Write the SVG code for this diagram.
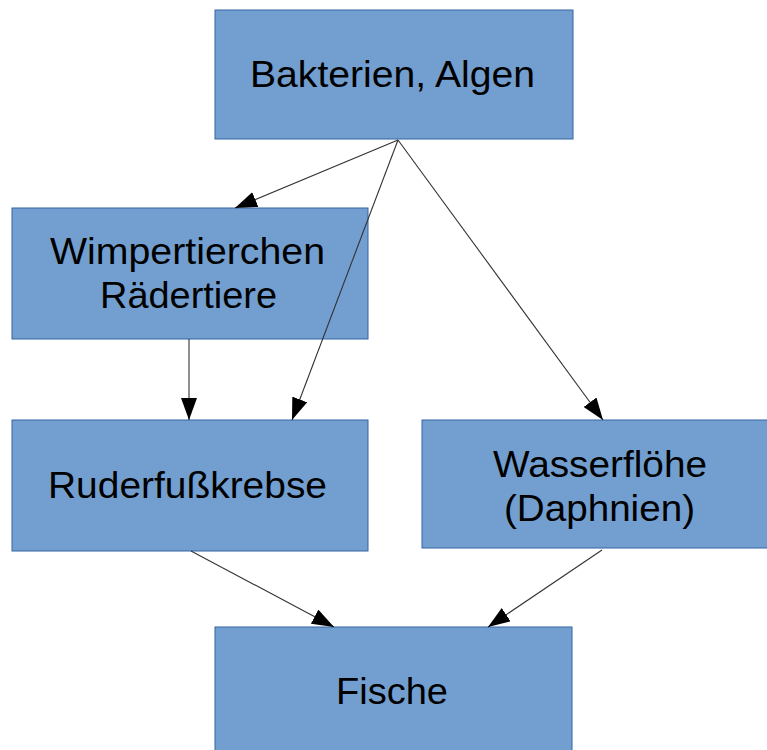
<svg xmlns="http://www.w3.org/2000/svg" width="767" height="750" viewBox="0 0 767 750">
<style>
.box{fill:#729fcf;stroke:#3465a4;stroke-width:1}
.lbl{font-family:"Liberation Sans",Arial,sans-serif;font-size:36.5px;fill:#000}
.edge{stroke:#333;stroke-width:1.1;fill:none;marker-end:url(#arr)}
</style>
<defs>
<marker id="arr" markerUnits="userSpaceOnUse" markerWidth="23" markerHeight="16" refX="22" refY="8" orient="auto">
<path d="M0,0 L22,8 L0,16 z" fill="#000"/>
</marker>
</defs>
<rect width="767" height="750" fill="#fff"/>
<g id="n-bakterien">
<rect class="box" x="215" y="10" width="358" height="129"/>
<text class="lbl" x="250" y="87" textLength="285" lengthAdjust="spacingAndGlyphs">Bakterien, Algen</text>
</g>
<g id="n-wimpertierchen">
<rect class="box" x="12" y="208" width="356" height="131"/>
<text class="lbl" x="50" y="264" textLength="275" lengthAdjust="spacingAndGlyphs">Wimpertierchen</text>
<text class="lbl" x="100" y="308" textLength="177" lengthAdjust="spacingAndGlyphs">Rädertiere</text>
</g>
<g id="n-ruderfusskrebse">
<rect class="box" x="12" y="420" width="356" height="131"/>
<text class="lbl" x="48" y="498" textLength="279" lengthAdjust="spacingAndGlyphs">Ruderfußkrebse</text>
</g>
<g id="n-wasserfloehe">
<rect class="box" x="422" y="420" width="350" height="128"/>
<text class="lbl" x="493" y="477" textLength="214" lengthAdjust="spacingAndGlyphs">Wasserflöhe</text>
<text class="lbl" x="504" y="521" textLength="191" lengthAdjust="spacingAndGlyphs">(Daphnien)</text>
</g>
<g id="n-fische">
<rect class="box" x="215" y="627" width="357" height="130"/>
<text class="lbl" x="336" y="704" textLength="112" lengthAdjust="spacingAndGlyphs">Fische</text>
</g>
<g id="connectors">
<line class="edge" x1="398" y1="140" x2="235" y2="208"/>
<line class="edge" x1="398" y1="140" x2="292" y2="420"/>
<line class="edge" x1="398" y1="140" x2="603" y2="420"/>
<line class="edge" x1="189" y1="339" x2="189" y2="420"/>
<line class="edge" x1="191" y1="551" x2="334" y2="627"/>
<line class="edge" x1="602" y1="550" x2="488" y2="627"/>
</g>
</svg>
